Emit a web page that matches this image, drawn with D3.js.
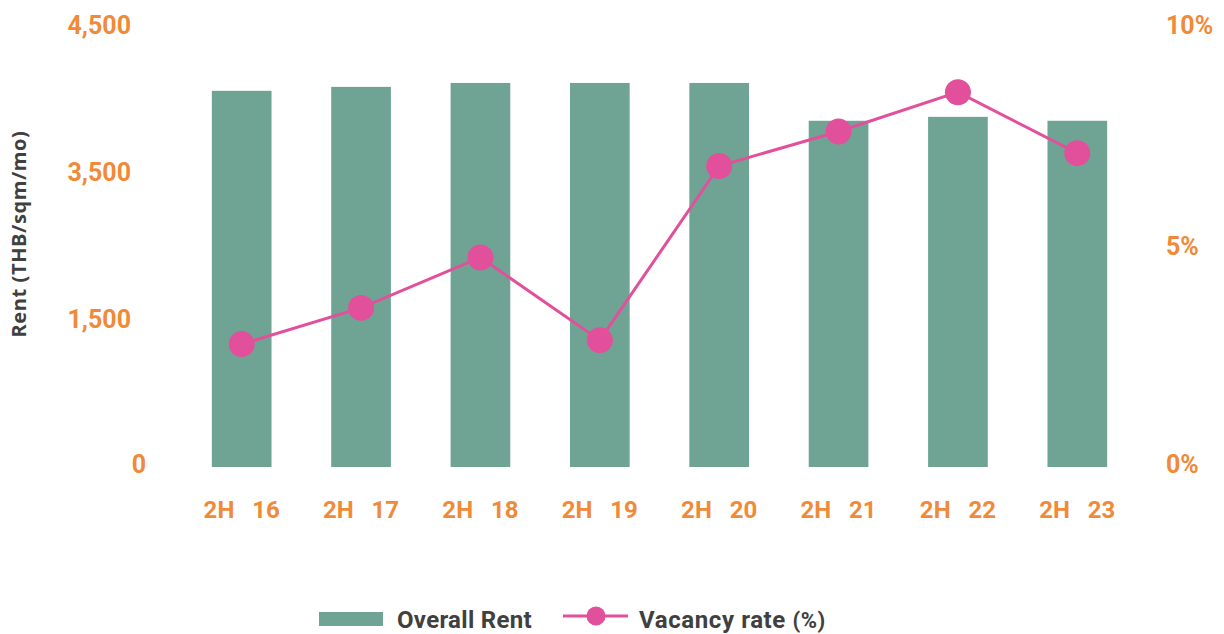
<!DOCTYPE html>
<html>
<head>
<meta charset="utf-8">
<script src="https://cdn.jsdelivr.net/npm/d3@7"></script>
<style>
  body { margin: 0; background: #fff; }
  svg { display: block; }
  .tick text { white-space: pre; }
</style>
</head>
<body>
<svg id="chart"></svg>
<script>
// data
const categories = ['2H   16', '2H   17', '2H   18', '2H   19', '2H   20', '2H   21', '2H   22', '2H   23'];
const rentValues = [3830, 3870, 3910, 3910, 3910, 3525, 3565, 3525];
const vacancyValues = [2.78, 3.60, 4.74, 2.87, 6.81, 7.59, 8.48, 7.10];
const rentTickValues = [0, 1500, 3000, 4500];
const rentTickLabels = ['0', '1,500', '3,500', '4,500'];
const vacancyTickValues = [0, 5, 10];
const seriesNames = ['Overall Rent', 'Vacancy rate '];

const W = 1224, H = 634;
const orange = '#f08a38';
const teal = '#6fa495';
const pink = '#e2509b';
const dark = '#404040';

const svg = d3.select('#chart').attr('width', W).attr('height', H);

const x = d3.scaleBand()
  .domain(categories)
  .range([182, 1137])
  .paddingInner(0.5)
  .paddingOuter(0.25);

const yRent = d3.scaleLinear().domain([0, 4500]).range([467, 25]);
const yVac = d3.scaleLinear().domain([0, 10]).range([467, 25]);

// left axis
const leftAxis = svg.append('g')
  .attr('transform', 'translate(131,0)')
  .call(d3.axisLeft(yRent)
    .tickValues(rentTickValues)
    .tickFormat((d, i) => rentTickLabels[i])
    .tickSize(0)
    .tickPadding(0));
leftAxis.select('.domain').remove();
leftAxis.selectAll('text')
  .attr('fill', orange)
  .style('font-family', 'Roboto, sans-serif')
  .style('font-weight', '700')
  .style('font-size', '25px');
// the zero label sits further right in the original
leftAxis.selectAll('.tick').filter(d => d === 0).select('text')
  .attr('x', 15).attr('dy', '0.2em');

// right axis
const rightAxis = svg.append('g')
  .attr('transform', 'translate(1166,0)')
  .call(d3.axisRight(yVac)
    .tickValues(vacancyTickValues)
    .tickFormat(d => d + '%')
    .tickSize(0)
    .tickPadding(0));
rightAxis.select('.domain').remove();
rightAxis.selectAll('text')
  .attr('fill', orange)
  .style('font-family', 'Roboto, sans-serif')
  .style('font-weight', '700')
  .style('font-size', '25px');
rightAxis.selectAll('.tick').filter(d => d === 0).select('text').attr('dy', '0.2em');

// x axis
const xAxis = svg.append('g')
  .attr('transform', 'translate(0,510)')
  .call(d3.axisBottom(x).tickSize(0).tickPadding(0));
xAxis.select('.domain').remove();
xAxis.selectAll('text')
  .attr('dy', '0.35em')
  .attr('fill', orange)
  .style('font-family', 'Roboto, sans-serif')
  .style('font-weight', '700')
  .style('font-size', '24px');

// y axis title
svg.append('text')
  .attr('transform', 'translate(26,234) rotate(-90)')
  .attr('text-anchor', 'middle')
  .attr('fill', dark)
  .style('font-family', '"Open Sans", sans-serif')
  .style('font-weight', '700')
  .style('font-size', '20px')
  .style('letter-spacing', '0.6px')
  .text('Rent (THB/sqm/mo)');

// bars
svg.append('g')
  .selectAll('rect')
  .data(rentValues)
  .join('rect')
  .attr('x', (d, i) => x(categories[i]))
  .attr('y', d => yRent(d))
  .attr('width', x.bandwidth())
  .attr('height', d => yRent(0) - yRent(d))
  .attr('fill', teal);

// vacancy line
const cx = i => x(categories[i]) + x.bandwidth() / 2;
const line = d3.line()
  .x((d, i) => cx(i))
  .y(d => yVac(d));

svg.append('path')
  .datum(vacancyValues)
  .attr('d', line)
  .attr('fill', 'none')
  .attr('stroke', pink)
  .attr('stroke-width', 3);

svg.append('g')
  .selectAll('circle')
  .data(vacancyValues)
  .join('circle')
  .attr('cx', (d, i) => cx(i))
  .attr('cy', d => yVac(d))
  .attr('r', 13)
  .attr('fill', pink);

// legend
const legend = svg.append('g').attr('transform', 'translate(0,616)');
legend.append('rect')
  .attr('x', 319).attr('y', -4)
  .attr('width', 64).attr('height', 14)
  .attr('fill', teal);
legend.append('text')
  .attr('x', 397).attr('y', 12)
  .attr('fill', dark)
  .style('font-family', 'Roboto, sans-serif')
  .style('font-weight', '700')
  .style('font-size', '24px')
  .style('letter-spacing', '0.3px')
  .text(seriesNames[0]);

legend.append('line')
  .attr('x1', 563).attr('x2', 628)
  .attr('y1', 0).attr('y2', 0)
  .attr('stroke', pink).attr('stroke-width', 3);
legend.append('circle')
  .attr('cx', 596).attr('cy', 0).attr('r', 9.5)
  .attr('fill', pink);
const vt = legend.append('text')
  .attr('x', 639).attr('y', 12)
  .attr('fill', dark)
  .style('font-family', 'Roboto, sans-serif')
  .style('font-weight', '700')
  .style('font-size', '24px')
  .style('letter-spacing', '0.6px')
  .style('white-space', 'pre');
vt.append('tspan').text(seriesNames[1]);
vt.append('tspan').style('font-size', '22px').text('(%)');
</script>
</body>
</html>
